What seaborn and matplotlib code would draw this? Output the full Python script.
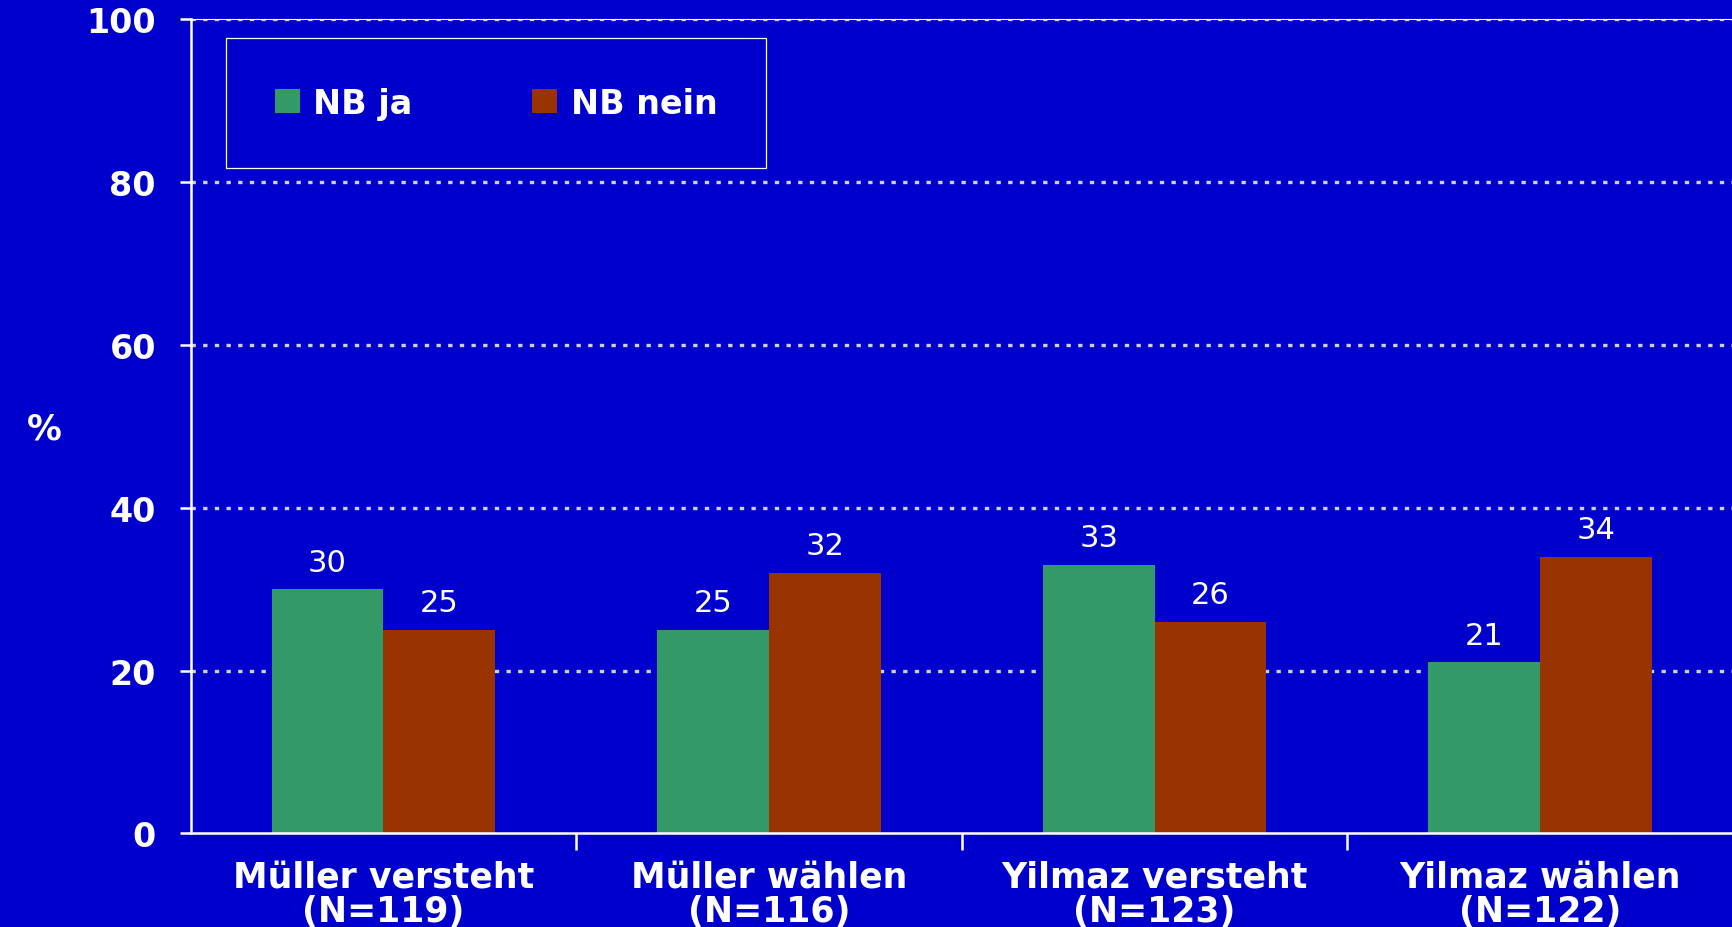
import matplotlib
matplotlib.use('Agg')
import matplotlib.pyplot as plt
import numpy as np
import pandas as pd
import seaborn as sns

# data
categories = ['Müller versteht\n(N=119)', 'Müller wählen\n(N=116)',
              'Yilmaz versteht\n(N=123)', 'Yilmaz wählen\n(N=122)']
nb_ja = [30, 25, 33, 21]
nb_nein = [25, 32, 26, 34]
series = ['NB ja', 'NB nein']
yticks = [0, 20, 40, 60, 80, 100]

bg = '#0000CC'
colors = ['#339966', '#993300']

sns.set_style('dark')
plt.rcParams['font.family'] = ['DejaVu Sans']
plt.rcParams['axes.unicode_minus'] = False

df = pd.DataFrame({
    'cat': categories * 2,
    'val': nb_ja + nb_nein,
    'grp': [series[0]] * 4 + [series[1]] * 4,
})

fig = plt.figure(figsize=(17.33, 9.28), dpi=100, facecolor=bg)
ax = fig.add_axes([0.110, 0.101, 0.890, 0.877])
ax.set_facecolor(bg)

sns.barplot(data=df, x='cat', y='val', hue='grp', palette=colors,
            width=0.58, saturation=1, ax=ax, zorder=3, linewidth=0)

# value labels above bars
for c in ax.containers:
    ax.bar_label(c, fmt='%d', padding=9, color='white', fontsize=22)

ax.set_xlim(-0.5, 3.5)
ax.set_ylim(0, 100)
ax.set_yticks(yticks)
ax.grid(False)
for y in yticks[1:]:
    ax.axhline(y, color='#d0d0d0', lw=2.4, ls=(0, (1.3, 2.2)), zorder=1)

ax.spines['right'].set_visible(False)
ax.spines['top'].set_color('white')
ax.spines['top'].set_linewidth(0.8)
for s in ['left', 'bottom']:
    ax.spines[s].set_color('white')
    ax.spines[s].set_linewidth(1.8)
    ax.spines[s].set_zorder(4)

ax.tick_params(axis='y', colors='white', length=8, width=1.8, direction='out',
               labelsize=24, pad=17, left=True)
for t in ax.get_yticklabels():
    t.set_fontweight('bold')

ax.set_xticks(range(4))
ax.set_xticklabels(categories, fontsize=25, fontweight='bold',
                   color='white', linespacing=1.0)
ax.tick_params(axis='x', length=0, pad=19, bottom=True)
ax.set_xticks([0.5, 1.5, 2.5], minor=True)
ax.tick_params(axis='x', which='minor', length=12, width=1.8,
               color='white', direction='out', bottom=True)

ax.set_xlabel('')
ax.set_ylabel('%', rotation=0, fontsize=25, fontweight='bold', color='white',
              va='center', ha='center')
ax.yaxis.set_label_coords(-0.095, 0.497)

leg = ax.legend(loc='center', bbox_to_anchor=(0.198, 0.897), ncol=2,
                frameon=True, fancybox=False, edgecolor='white',
                facecolor=bg, framealpha=1, borderpad=1.45,
                handlelength=0.75, handleheight=0.75, handletextpad=0.4,
                columnspacing=3.6, prop={'weight': 'bold', 'size': 24})
leg.get_frame().set_linewidth(0.9)
for t in leg.get_texts():
    t.set_color('white')
leg.set_zorder(5)

fig.savefig('out.png', dpi=100, facecolor=bg)
